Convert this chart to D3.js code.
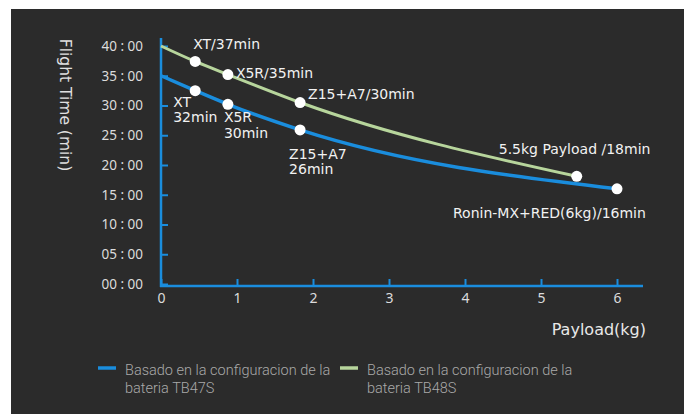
<!DOCTYPE html>
<html>
<head>
<meta charset="utf-8">
<script src="https://cdn.jsdelivr.net/npm/d3@7"></script>
<style>
  body { margin: 0; background: #fff; }
  text { font-family: "DejaVu Sans", sans-serif; }
</style>
</head>
<body>
<div id="chart"></div>
<script>
// payload in kg, flight time in minutes
const tb48Payload = [0, 0.45, 0.88, 1.83, 5.47];
const tb48Time = [40, 37.4, 35.2, 30.5, 18.1];
const tb48Labels = [null, "XT/37min", "X5R/35min", "Z15+A7/30min", "5.5kg Payload /18min"];

const tb47Payload = [0, 0.45, 0.88, 1.83, 6.0];
const tb47Time = [35, 32.5, 30.2, 25.9, 16.0];
const tb47Labels = [null, ["XT", "32min"], ["X5R", "30min"], ["Z15+A7", "26min"], "Ronin-MX+RED(6kg)/16min"];

const xTicks = [0, 1, 2, 3, 4, 5, 6];
const yTicks = [0, 5, 10, 15, 20, 25, 30, 35, 40];
const legendNames = [["Basado en la configuracion de la", "bateria TB47S"],
                     ["Basado en la configuracion de la", "bateria TB48S"]];

const W = 686, H = 414;
const blue = "#1a8ddd", green = "#b7d59c";

const svg = d3.select("#chart").append("svg")
    .attr("width", W)
    .attr("height", H);

svg.append("rect")
    .attr("x", 11).attr("y", 9)
    .attr("width", 673).attr("height", 405)
    .attr("fill", "#2b2b2b");

const x = d3.scaleLinear().domain([0, 6]).range([161, 617]);
const y = d3.scaleLinear().domain([0, 40]).range([284, 46]);

// axes
const gy = svg.append("g")
    .attr("transform", "translate(161,0)")
    .call(d3.axisLeft(y).tickValues(yTicks).tickSize(-7).tickPadding(18)
        .tickFormat(d => d3.format("02")(d) + " : 00"));
gy.select(".domain").remove();
gy.selectAll("line").attr("stroke", blue).attr("stroke-width", 2);
gy.selectAll("text").attr("fill", "#dcdcdc")
    .style("font-family", "'Noto Sans', sans-serif").style("font-size", "13.5px");

const gx = svg.append("g")
    .attr("transform", "translate(0,286)")
    .call(d3.axisBottom(x).tickValues(xTicks).tickSize(-7).tickPadding(7)
        .tickFormat(d3.format("d")));
gx.select(".domain").remove();
gx.selectAll("line").attr("stroke", blue).attr("stroke-width", 2);
gx.selectAll("text").attr("fill", "#dcdcdc")
    .style("font-family", "'Noto Sans', sans-serif").style("font-size", "14px");

svg.append("line")
    .attr("x1", 161).attr("x2", 161).attr("y1", 38).attr("y2", 287)
    .attr("stroke", blue).attr("stroke-width", 2.5);
svg.append("line")
    .attr("x1", 160).attr("x2", 643).attr("y1", 286).attr("y2", 286)
    .attr("stroke", blue).attr("stroke-width", 2.5);

svg.append("text")
    .attr("transform", "translate(60,105) rotate(90)")
    .attr("text-anchor", "middle")
    .attr("fill", "#e0e0e0")
    .style("font-size", "15.5px")
    .text("Flight Time (min)");

svg.append("text")
    .attr("x", 646).attr("y", 335)
    .attr("text-anchor", "end")
    .attr("fill", "#e8e8e8")
    .style("font-size", "16px")
    .text("Payload(kg)");

// curves
const line = d3.line()
    .x(d => x(d.p))
    .y(d => y(d.t))
    .curve(d3.curveMonotoneX);

function series(pay, time, labels) {
    return pay.map((p, i) => ({ p: p, t: time[i], label: labels[i] }));
}
const s48 = series(tb48Payload, tb48Time, tb48Labels);
const s47 = series(tb47Payload, tb47Time, tb47Labels);

svg.append("path").datum(s48)
    .attr("d", line).attr("fill", "none")
    .attr("stroke", green).attr("stroke-width", 3);
svg.append("path").datum(s47)
    .attr("d", line).attr("fill", "none")
    .attr("stroke", blue).attr("stroke-width", 3.5);

[s48, s47].forEach(s => {
    svg.selectAll(null)
        .data(s.filter(d => d.label))
        .enter().append("circle")
        .attr("cx", d => x(d.p))
        .attr("cy", d => y(d.t))
        .attr("r", 5.5)
        .attr("fill", "#fff");
});

// point labels: offsets relative to the point
const offs48 = [null, [-2, -12], [8, 3], [8, -4], [-78, -22]];
const offs47 = [null, [-22, 16], [-4, 18], [-11, 29], [-164, 29]];

function drawLabels(s, offs) {
    s.forEach((d, i) => {
        if (!d.label) return;
        const lines = Array.isArray(d.label) ? d.label : [d.label];
        lines.forEach((l, k) => {
            svg.append("text")
                .attr("x", x(d.p) + offs[i][0])
                .attr("y", y(d.t) + offs[i][1] + k * 15.5)
                .attr("fill", "#f2f2f2")
                .style("font-size", "14px")
                .text(l);
        });
    });
}
drawLabels(s48, offs48);
drawLabels(s47, offs47);

// legend
const legend = svg.selectAll(".legend")
    .data(legendNames)
    .enter().append("g")
    .attr("transform", (d, i) => "translate(" + (98 + i * 242) + ",368)");
legend.append("line")
    .attr("x1", 0).attr("x2", 18)
    .attr("stroke", (d, i) => i === 0 ? blue : green)
    .attr("stroke-width", 3.5);
legend.each(function (d) {
    const g = d3.select(this);
    d.forEach((l, k) => {
        g.append("text")
            .attr("x", 27).attr("y", 7 + k * 18)
            .attr("fill", "#a9a9a9")
            .style("font-size", "14.5px")
            .style("font-family", "Roboto, sans-serif")
            .style("font-weight", 300)
            .text(l);
    });
});
</script>
</body>
</html>
